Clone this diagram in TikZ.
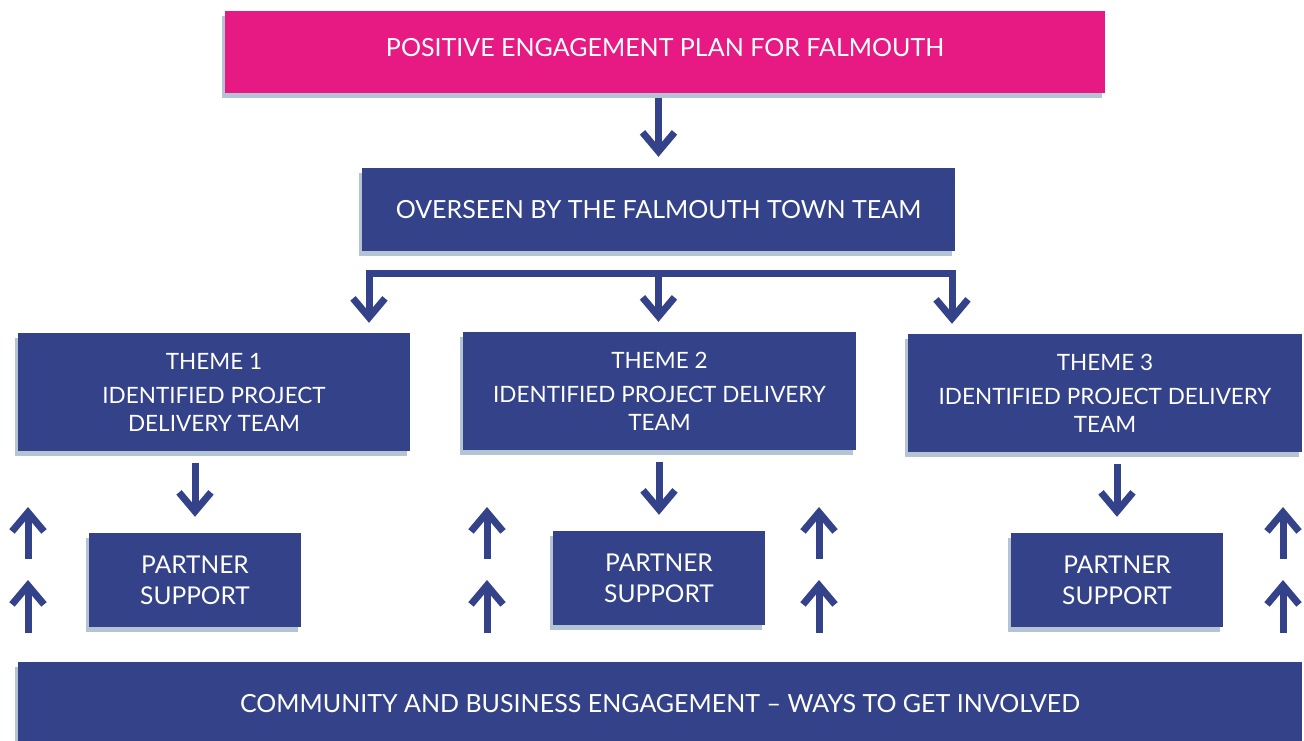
\documentclass[tikz,border=0pt]{standalone}
\usepackage{fontspec}
\setmainfont{Lato}
\usetikzlibrary{arrows.meta,shadows}
\definecolor{navy}{RGB}{52,66,138}
\definecolor{planpink}{RGB}{230,26,130}
\definecolor{shadowc}{RGB}{180,196,212}
\begin{document}
\begin{tikzpicture}[x=1pt,y=-1pt,
  box/.style={rectangle, fill=navy, text=white, align=center, inner sep=0pt,
    font=\fontsize{25}{30}\selectfont,
    drop shadow={shadow xshift=-3pt, shadow yshift=-5pt, fill=shadowc, opacity=1}},
  themebox/.style={box, minimum height=118pt, font=\fontsize{22.5}{28}\selectfont},
  partnerbox/.style={box, minimum width=212pt, minimum height=94pt, font=\fontsize{24.5}{31}\selectfont},
  flow/.style={draw=navy, line width=7pt, -{Straight Barb[length=19pt,width=32pt]}},
  bar/.style={draw=navy, line width=7pt, line cap=rect}]
\useasboundingbox (0,0) rectangle (1304,740);

% boxes
\node[box, fill=planpink, minimum width=880pt, minimum height=82pt,
      text height=18pt, text depth=10pt] (plan) at (665,52)
  {POSITIVE ENGAGEMENT PLAN FOR FALMOUTH};
\node[box, minimum width=593pt, minimum height=83pt] (town) at (658.5,209.5)
  {OVERSEEN BY THE FALMOUTH TOWN TEAM};
\node[themebox, minimum width=392pt] (t1) at (214,392)
  {THEME 1\\[6pt]IDENTIFIED PROJECT\\DELIVERY TEAM};
\node[themebox, minimum width=393pt] (t2) at (659.5,391)
  {THEME 2\\[6pt]IDENTIFIED PROJECT DELIVERY\\TEAM};
\node[themebox, minimum width=394pt] (t3) at (1105,393)
  {THEME 3\\[6pt]IDENTIFIED PROJECT DELIVERY\\TEAM};
\node[partnerbox] (p1) at (195,580) {PARTNER\\SUPPORT};
\node[partnerbox] (p2) at (659,578) {PARTNER\\SUPPORT};
\node[partnerbox] (p3) at (1117,580) {PARTNER\\SUPPORT};
\node[box, minimum width=1284pt, minimum height=83pt] (eng) at (660,703.5)
  {COMMUNITY AND BUSINESS ENGAGEMENT -- WAYS TO GET INVOLVED};

% plan -> town team
\draw[flow, shorten <=5pt, shorten >=11pt] (plan.south -| town.north) -- (town.north);

% distribution bar to the three themes
\coordinate (bl) at (369,273.5);
\coordinate (br) at (952,273.5);
\draw[bar] (bl) -- (br);
\draw[flow, shorten >=10pt] (bl) -- (bl |- t1.north);
\draw[flow, shorten >=10pt] (town.south |- bl) -- (town.south |- t2.north);
\draw[flow, shorten >=10pt] (br) -- (br |- t3.north);

% themes -> partner support
\draw[flow, shorten <=12pt, shorten >=16pt] (t1.south -| p1.north) -- (p1.north);
\draw[flow, shorten <=12pt, shorten >=16pt] (t2.south -| p2.north) -- (p2.north);
\draw[flow, shorten <=12pt, shorten >=16pt] (t3.south -| p3.north) -- (p3.north);

% engagement flowing upwards
\foreach \i/\x in {1/28,2/487,3/819,4/1283}{
  \coordinate (lo\i) at (\x,633);
  \coordinate (lt\i) at (\x,580);
  \coordinate (hi\i) at (\x,559);
  \coordinate (ht\i) at (\x,507);
  \draw[flow] (lo\i) -- (lt\i);
  \draw[flow] (hi\i) -- (ht\i);
}
\end{tikzpicture}
\end{document}
